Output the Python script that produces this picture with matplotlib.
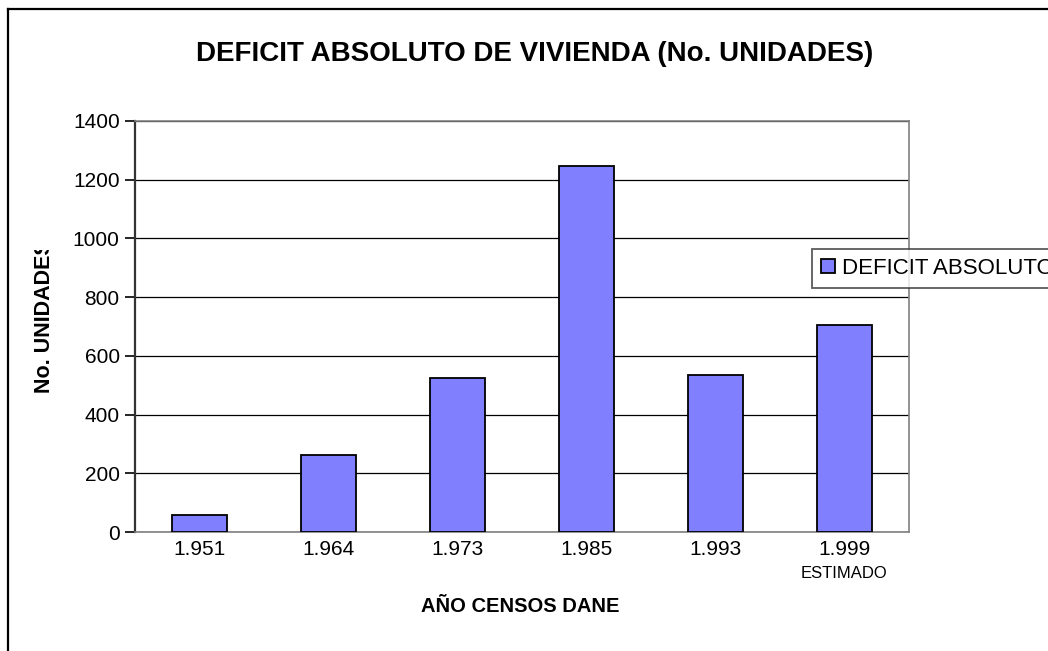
import matplotlib
matplotlib.use("Agg")
import matplotlib.pyplot as plt
from matplotlib.lines import Line2D
from matplotlib.transforms import Bbox, blended_transform_factory

plt.rcParams['font.family'] = ['Liberation Sans', 'DejaVu Sans']

categories = ["1.951", "1.964", "1.973", "1.985", "1.993", "1.999"]
values = [58, 262, 525, 1248, 536, 706]
yticks = [0, 200, 400, 600, 800, 1000, 1200, 1400]
series_name = "DEFICIT ABSOLUTO"

W, H = 1048, 651
fig = plt.figure(figsize=(W / 100, H / 100), dpi=100)
ax = fig.add_axes([135 / W, 1 - 532 / H, (909 - 135) / W, (532 - 121) / H])

x = list(range(len(categories)))
ax.bar(x, values, width=0.42, color="#8080FF", edgecolor="black", linewidth=1.3,
       label=series_name, zorder=3)
ax.set_xlim(-0.5, len(categories) - 0.5)
ax.set_ylim(0, 1400)
ax.set_yticks(yticks)
ax.set_yticklabels([str(v) for v in yticks], fontsize=15)
ax.set_xticks(x)
ax.set_xticklabels(categories, fontsize=15)
ax.tick_params(axis='x', length=0, pad=6)
ax.tick_params(axis='y', length=7, width=1.2, direction='out', pad=4)
ax.yaxis.grid(True, color="black", linewidth=0.9, zorder=0)
ax.set_axisbelow(True)
for s in ["top", "right", "bottom"]:
    ax.spines[s].set_color("#808080")
    ax.spines[s].set_linewidth(1.2)
ax.spines["left"].set_color("#333333")
ax.spines["left"].set_linewidth(1.6)

tr = blended_transform_factory(ax.transData, fig.transFigure)
ax.text(5, 1 - 573 / H, "ESTIMADO", transform=tr, ha="center", va="center", fontsize=12)

fig.text(535 / W, 1 - 54 / H, "DEFICIT ABSOLUTO DE VIVIENDA (No. UNIDADES)",
         ha="center", va="center", fontsize=20, fontweight="bold")
fig.text(520 / W, 1 - 606 / H, "AÑO CENSOS DANE", ha="center", va="center",
         fontsize=14.5, fontweight="bold")
yl = fig.text(45 / W, 1 - 393 / H, "No. UNIDADES", ha="center", va="bottom",
              rotation=90, fontsize=15.5, fontweight="bold")
yl.set_clip_box(Bbox.from_extents(0, 0, W, H - 250))
yl.set_clip_on(True)

leg = fig.legend(loc="upper left", bbox_to_anchor=(812 / W, 1 - 249 / H), fontsize=16,
                 frameon=True, fancybox=False, edgecolor="#333333", borderaxespad=0,
                 handlelength=0.65, handleheight=0.65, handletextpad=0.3,
                 borderpad=0.4)
leg.get_frame().set_linewidth(1.3)

fig.add_artist(Line2D([8 / W, 8 / W], [0, 1 - 9 / H], color="black", linewidth=1.6,
                      transform=fig.transFigure))
fig.add_artist(Line2D([8 / W, 1], [1 - 9 / H, 1 - 9 / H], color="black", linewidth=1.6,
                      transform=fig.transFigure))

fig.savefig("out.png", dpi=100)
